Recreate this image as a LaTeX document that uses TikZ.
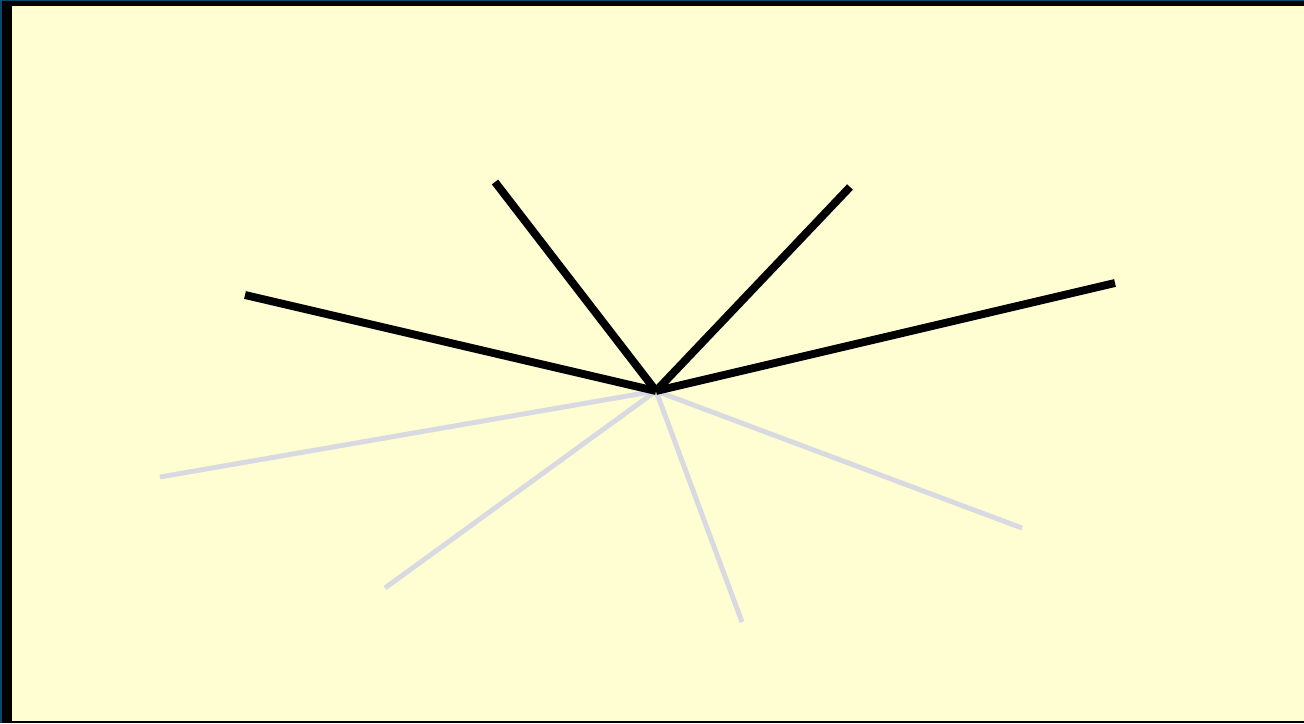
\documentclass[tikz,border=0pt]{standalone}
\usepackage{tikz}
\usetikzlibrary{positioning,calc}

\definecolor{cream}{HTML}{FFFDD2}
\definecolor{framebl}{HTML}{0B4A6C}
\definecolor{ghost}{HTML}{D9D9E2}

\tikzset{
    ray/.style={line width=4.5pt,color=black},
    ghostray/.style={line width=2.8pt,color=ghost}
}

\begin{document}
\begin{tikzpicture}[x=0.02cm,y=-0.02cm]
        % frame and background
        \fill[framebl] (0,0) rectangle (1304,723);
        \fill[black] (2,1) rectangle (1304,723);
        \fill[cream] (12,6) rectangle (1304,721);
        \useasboundingbox (0,0) rectangle (1304,723);
        \coordinate (hub) at (656,391);
        % faint rays below
        \foreach \name/\px/\py in {g1/160/477, g2/385/588, g3/742/622, g4/1022/528}{
            \coordinate (\name) at (\px,\py);
            \draw[ghostray] (hub) -- (\name);
        }
        % dark rays above
        \foreach \name/\px/\py in {b1/245/295, b2/495/182, b3/850/187, b4/1115/283}{
            \coordinate (\name) at (\px,\py);
            \draw[ray] (hub) -- (\name);
        }
    \end{tikzpicture}
\end{document}
